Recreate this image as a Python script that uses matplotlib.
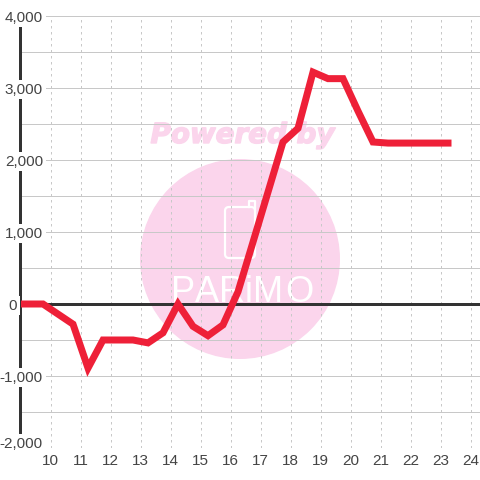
import matplotlib
matplotlib.use("Agg")
import matplotlib.pyplot as plt
import matplotlib.patheffects as pe
from matplotlib.patches import Circle, FancyBboxPatch

hours = [9.0, 9.25, 9.75, 10.25, 10.75, 11.25, 11.75, 12.25, 12.75, 13.25, 13.75, 14.25,
         14.75, 15.25, 15.75, 16.25, 16.75, 17.25, 17.75, 18.25, 18.75, 19.25, 19.75,
         20.25, 20.75, 21.25, 21.75, 22.25, 22.75, 23.25]
values = [0, 0, 0, -140, -280, -890, -500, -500, -500, -540, -400, 0,
          -310, -440, -290, 170, 860, 1555, 2250, 2440, 3220, 3130, 3130,
          2680, 2250, 2235, 2235, 2235, 2235, 2235]
x_ticks = list(range(10, 25))
y_major = [-2000, -1000, 0, 1000, 2000, 3000, 4000]
y_grid = [-2000, -1500, -1000, -500, 0, 500, 1000, 1500, 2000, 2500, 3000, 3500, 4000]

W = 480
plt.rcParams['font.family'] = ['Liberation Sans', 'DejaVu Sans']
fig = plt.figure(figsize=(4.8, 4.8), dpi=100, facecolor='white')
PX = 0.72

# watermark layer in pixel coordinates
bg = fig.add_axes([0, 0, 1, 1], zorder=0)
bg.set_xlim(0, W); bg.set_ylim(W, 0); bg.axis('off')
pink = '#fbd5ec'
bg.add_patch(Circle((240, 259), 100, fc=pink, ec='none'))
bg.text(242.5, 135, 'Powered by', color=pink, fontsize=20, fontweight='bold', style='italic',
        ha='center', va='center', family=['DejaVu Sans'],
        path_effects=[pe.withStroke(linewidth=1.0, foreground=pink)])
bg.add_patch(FancyBboxPatch((225, 207), 30, 51, boxstyle='round,pad=0,rounding_size=4',
                            fc='none', ec='white', lw=1.6))
bg.plot([249, 249, 255, 255], [207, 201, 201, 210], color='white', lw=1.6)
for ch, cx in zip('PARiMO', [183, 207, 232, 249, 268, 299]):
    bg.text(cx, 292, ch, color='white', fontsize=26, ha='center', va='center',
            family=['Liberation Sans'])

# main chart
left, top, bottom = 20.5, 16, 448
ax = fig.add_axes([left / W, 1 - bottom / W, (W - left) / W, (bottom - top) / W], zorder=1)
ax.patch.set_visible(False)
xmax = 9 + (W - left) / 30
ax.set_xlim(9, xmax)
ax.set_ylim(-2000, 4000)
for s in ax.spines.values():
    s.set_visible(False)

ax.hlines(y_grid, 9, xmax, color='#c8c8c8', lw=1 * PX, zorder=0.6)
ax.vlines(x_ticks, -2000, 4000, color='#c8c8c8', lw=1 * PX, linestyles=(0, (2.5, 3.5)), zorder=0.6)
ax.axvline(8.97, color='#333333', lw=3 * PX, zorder=1, clip_on=False)
ax.axhline(0, color='#333333', lw=3 * PX, zorder=1.2)

ax.set_xticks(x_ticks)
ax.set_yticks(y_major)
ax.set_yticklabels([f'{v:,}' for v in y_major])
ax.yaxis.set_zorder(1.5)
ax.tick_params(axis='both', length=0, labelsize=11, labelcolor='#444444')
ax.tick_params(axis='x', pad=4.5)
ax.tick_params(axis='y', pad=-22.5 * PX)
for tick, v in zip(ax.yaxis.get_major_ticks(), y_major):
    lab = tick.label1
    lab.set_bbox(dict(fc='white', ec='none', pad=2))
    lab.set_clip_on(False)
    if v == 0:
        tick.set_pad(3.5 * PX)
    if v == -2000:
        lab.set_verticalalignment('baseline')

ax.plot(hours, values, color='#ee2038', lw=7 * PX, solid_capstyle='projecting',
        solid_joinstyle='miter', zorder=3)

fig.savefig('out.png', dpi=100)
